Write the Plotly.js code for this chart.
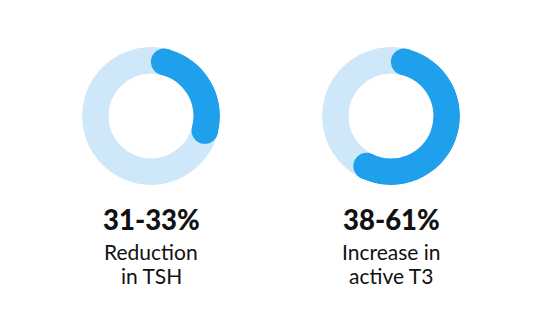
<!DOCTYPE html>
<html>
<head>
<meta charset="utf-8">
<script src="https://cdn.plot.ly/plotly-3.0.1.min.js"></script>
<style>html,body{margin:0;padding:0;background:#fff;}#chart{width:551px;height:325px;}</style>
</head>
<body>
<div id="chart"></div>
<script>
// Data
const pctValues = [33, 61];
const headlines = ["31-33%", "38-61%"];
const captionLine1 = ["Reduction", "Increase in"];
const captionLine2 = ["in TSH", "active T3"];

// Styles / geometry
const W = 551, H = 325;
const centersX = [151, 391];
const centerY = 116;
const outerR = 69, innerR = 42.5;
const thick = outerR - innerR;
const midR = (outerR + innerR) / 2;
const capDeg = (thick / 2) / midR * 180 / Math.PI;
const lightColor = "rgb(206,232,250)";
const darkColor = "rgb(31,160,236)";

const traces = [];
const layout = {
  width: W, height: H,
  margin: {l: 0, r: 0, t: 0, b: 0},
  paper_bgcolor: "#fff",
  showlegend: false,
  annotations: []
};

pctValues.forEach((v, i) => {
  const sub = i === 0 ? "polar" : "polar" + (i + 1);
  const cx = centersX[i];
  layout[sub] = {
    domain: {
      x: [(cx - outerR) / W, (cx + outerR) / W],
      y: [(H - centerY - outerR) / H, (H - centerY + outerR) / H]
    },
    bgcolor: "rgba(0,0,0,0)",
    barmode: "overlay",
    radialaxis: {visible: false, range: [0, outerR]},
    angularaxis: {visible: false, rotation: 90, direction: "clockwise"}
  };
  // background ring
  traces.push({
    type: "barpolar", subplot: sub,
    r: [thick], base: [innerR], theta: [180], width: [360],
    marker: {color: lightColor, line: {width: 0}},
    hoverinfo: "skip"
  });
  const a0 = capDeg;
  const a1 = v * 3.6 - capDeg;
  traces.push({
    type: "barpolar", subplot: sub,
    r: [thick], base: [innerR], theta: [(a0 + a1) / 2], width: [a1 - a0],
    marker: {color: darkColor, line: {width: 0}},
    hoverinfo: "skip"
  });
  traces.push({
    type: "scatterpolar", subplot: sub, mode: "markers",
    r: [midR, midR], theta: [a0, a1],
    marker: {color: darkColor, size: thick, line: {width: 0}},
    hoverinfo: "skip"
  });
  const xp = cx / W;
  layout.annotations.push({
    xref: "paper", yref: "paper", x: xp, y: (H - 219) / H,
    xanchor: "center", yanchor: "middle", showarrow: false,
    text: headlines[i],
    font: {family: "Lato, 'Open Sans', sans-serif", size: 27.5, weight: 900, color: "#111"}
  });
  layout.annotations.push({
    xref: "paper", yref: "paper", x: xp, y: (H - 252) / H,
    xanchor: "center", yanchor: "middle", showarrow: false,
    text: captionLine1[i],
    font: {family: "Lato, 'Open Sans', sans-serif", size: 21, color: "#111"}
  });
  layout.annotations.push({
    xref: "paper", yref: "paper", x: xp, y: (H - 275) / H,
    xanchor: "center", yanchor: "middle", showarrow: false,
    text: captionLine2[i],
    font: {family: "Lato, 'Open Sans', sans-serif", size: 21, color: "#111"}
  });
});

Plotly.newPlot("chart", traces, layout, {staticPlot: true, displayModeBar: false});
</script>
</body>
</html>
